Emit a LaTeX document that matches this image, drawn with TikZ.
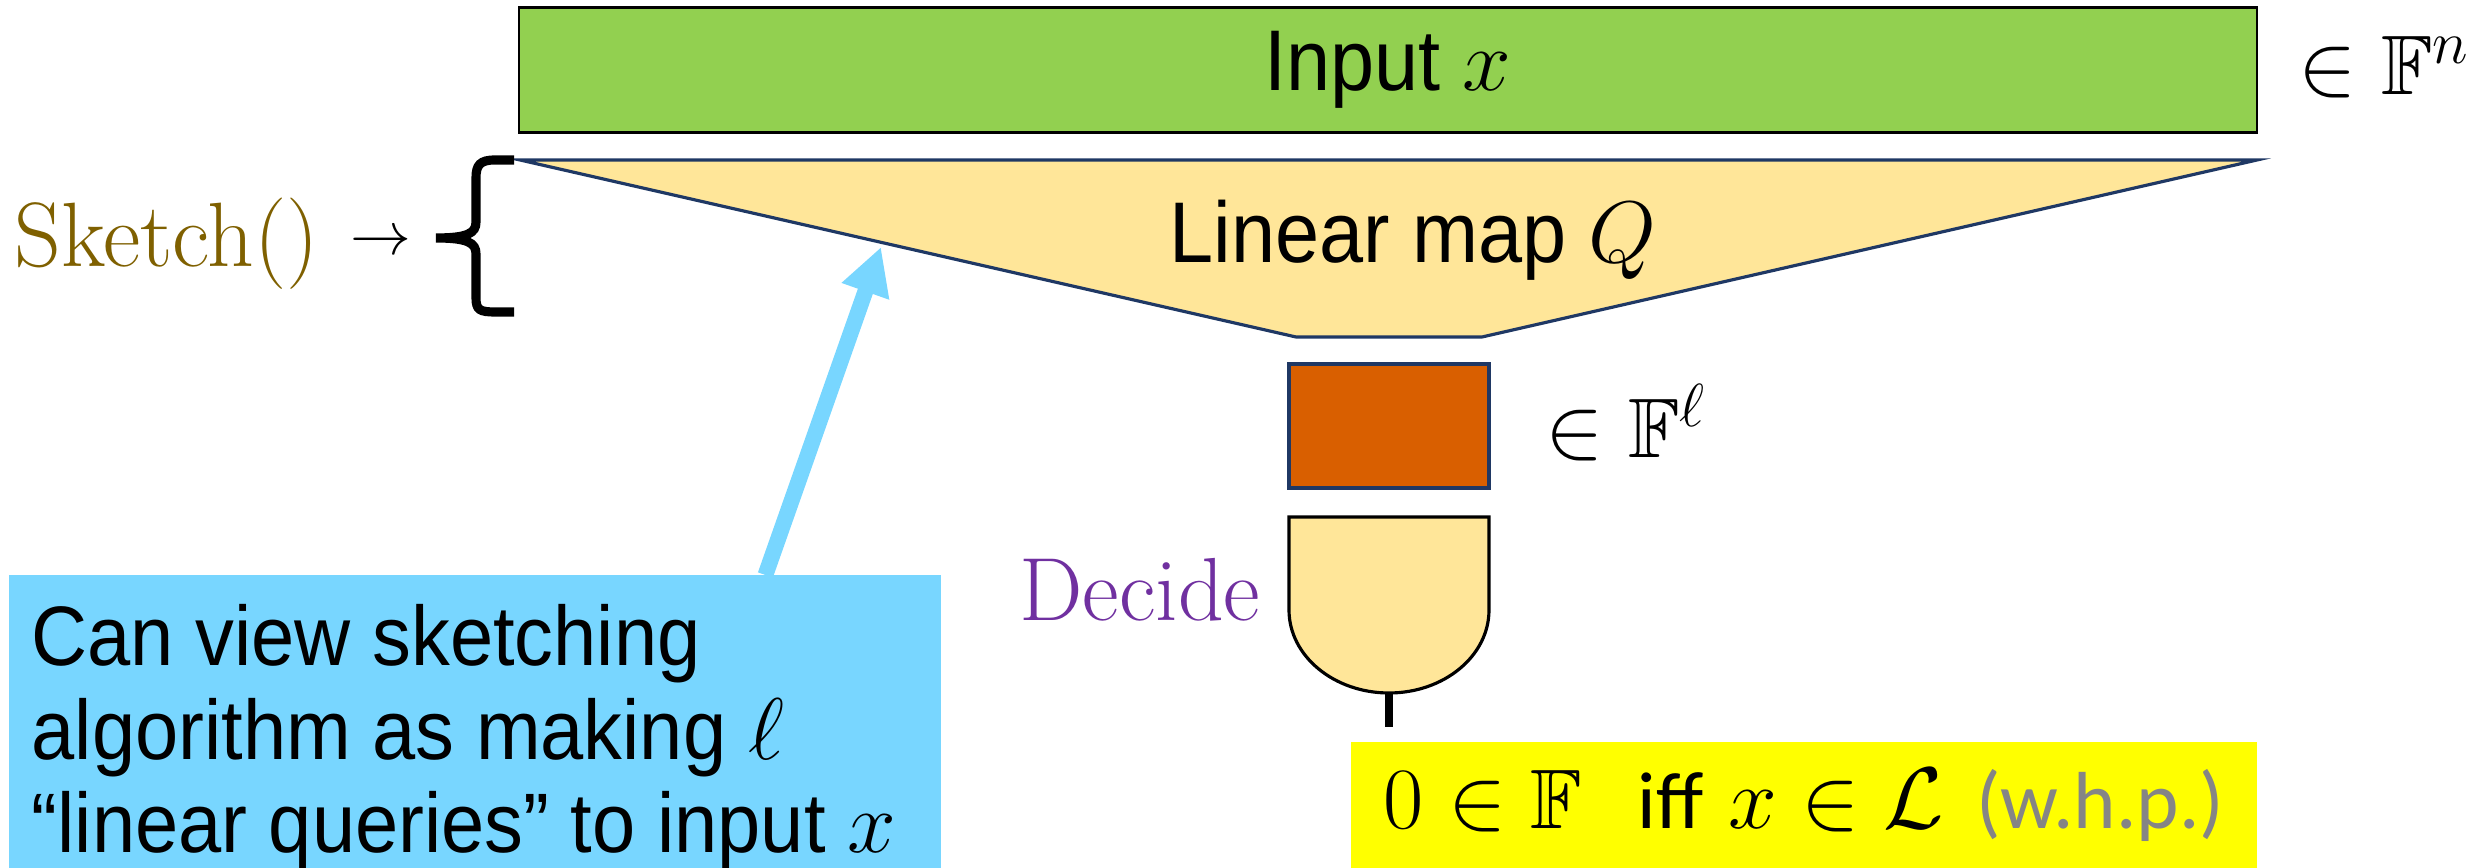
\documentclass[tikz,border=0pt]{standalone}
\usepackage{amsmath,amssymb}
\usepackage{fontspec}
\setsansfont[FakeStretch=0.92]{Liberation Sans}
\newfontfamily\carlito{Carlito}
\usetikzlibrary{arrows.meta, calc}
\definecolor{inputgreen}{HTML}{92D050}
\definecolor{mapyellow}{HTML}{FFE699}
\definecolor{mapborder}{HTML}{1F3864}
\definecolor{sketchorange}{HTML}{D95F00}
\definecolor{notecyan}{HTML}{78D6FF}
\definecolor{sketchbrown}{HTML}{7F6000}
\definecolor{decidepurple}{HTML}{7030A0}
\definecolor{resultyellow}{HTML}{FFFF00}
\definecolor{whpgray}{HTML}{858585}

\begin{document}
\begin{tikzpicture}[x=0.01cm, y=-0.01cm]
        \tikzstyle{box}=[rectangle, inner sep=0pt, outer sep=0pt]
        \tikzstyle{sans}=[font=\sffamily\fontsize{24.5}{28}\selectfont, inner sep=0pt]
        \tikzstyle{serif}=[font=\fontsize{26}{30}\selectfont, inner sep=0pt]
        \tikzstyle{maths}=[font=\fontsize{24}{28}\selectfont, inner sep=0pt]

        \useasboundingbox (0,0) rectangle (2478,868);

        % Input vector
        \node[box, sans, draw=black, line width=0.8pt, fill=inputgreen, minimum width=17.37cm, minimum height=1.25cm] (input) at (1388,70) {Input $x$};
        \node[maths, anchor=base west] (fn) at (2298,95) {$\in \mathbb{F}^n$};

        % Linear map Q
        \draw[fill=mapyellow, draw=mapborder, line width=0.9pt] (520,160) -- (2257,160) -- (1482,337) -- (1296,337) -- cycle;
        \node[sans, anchor=base] (map) at (1413,263) {Linear map $Q$};

        % Sketch() brace
        \draw[line width=2.6pt] (514,160) -- (495,160) .. controls (480,160) and (476,165) .. (476,178) -- (476,222) .. controls (476,233) and (468,238) .. (436,238) .. controls (468,238) and (476,243) .. (476,254) -- (476,298) .. controls (476,310) and (480,312) .. (495,312) -- (514,312);
        \node[serif, text=sketchbrown, anchor=base west] (sketch) at (14,267) {Sketch()};
        \node[font=\fontsize{17.5}{20}\selectfont, inner sep=0pt] (to) at (381,243) {$\rightarrow$};

        % Sketch vector
        \node[box, draw=mapborder, line width=0.9pt, fill=sketchorange, minimum width=2cm, minimum height=1.24cm] (sk) at (1389,426) {};
        \node[maths, anchor=base west] (fl) at (1545,458) {$\in \mathbb{F}^{\ell}$};

        % Decide gate
        \draw[fill=mapyellow, line width=0.9pt] (1289,517) -- (1489,517) -- (1489,610) .. controls (1489,656) and (1444,693) .. (1389,693) coordinate (gate) .. controls (1334,693) and (1289,656) .. (1289,610) -- cycle;
        \node[serif, font=\fontsize{25.5}{29}\selectfont, text=decidepurple, anchor=base east] (decide) at (1261,621) {Decide};
        \coordinate (stem) at (1389,727);
        \draw[line width=2.4pt] (gate) -- (stem);

        % Result
        \node[box, maths, fill=resultyellow, minimum width=9.06cm, minimum height=1.26cm] (res) at (1804,805) {$0 \in \mathbb{F}$\hspace{0.55cm}{\carlito\fontsize{23}{27}\selectfont iff}\hspace{0.25cm}$x \in \mathcal{L}$\hspace{0.32cm}{\carlito\fontsize{23}{27}\selectfont\color{whpgray}(w.h.p.)}};

        % Note on linear queries
        \node[box, fill=notecyan, minimum width=9.31cm, minimum height=2.93cm, anchor=north west] (note) at (9,575) {};
        \node[font=\sffamily\fontsize{24}{26.5}\selectfont, inner sep=0pt, anchor=north west, align=left] (notetext) at (31,604) {Can view sketching\\algorithm as making $\ell$\\“linear queries” to input $x$};
        \coordinate (hit) at (881,247);
        \draw[line width=4.5pt, notecyan, -{Triangle[length=0.47cm, width=0.47cm]}] ($(note.north west)!0.812!(note.north east)$) -- (hit);
\end{tikzpicture}
\end{document}
